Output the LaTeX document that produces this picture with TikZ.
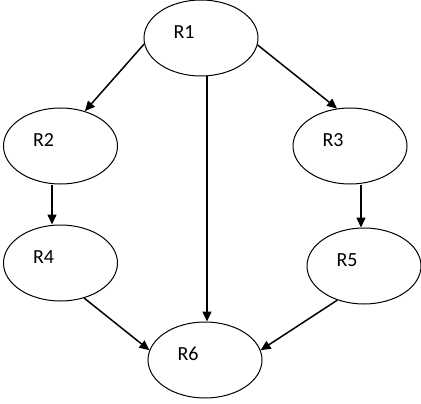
\documentclass[tikz,border=0pt]{standalone}
\usepackage{fontspec}
\setmainfont{Carlito}
\usetikzlibrary{shapes.geometric,arrows.meta}
\begin{document}
\begin{tikzpicture}[x=1pt,y=-1pt,
  rnode/.style={ellipse,draw,line width=1pt,minimum width=114pt,minimum height=76pt,inner sep=0pt,
    label={[font=\fontsize{20}{24}\selectfont,xshift=-17pt,yshift=6pt]center:#1}},
  conn/.style={line width=1.5pt,-{Triangle[length=10pt,width=9pt]},shorten >=0pt}]
\useasboundingbox (0,0) rectangle (421,404);
\node[rnode=R1] (R1) at (201,38) {};
\node[rnode=R2] (R2) at (60.5,146) {};
\node[rnode=R3] (R3) at (350,146) {};
\node[rnode=R4] (R4) at (60.5,263) {};
\node[rnode=R5] (R5) at (364,266) {};
\node[rnode=R6] (R6) at (205,360) {};
\coordinate (vmid) at (207,0);
\coordinate (vleft) at (52,0);
\coordinate (vright) at (361,0);
\draw[conn] (R1.186) -- (R2.55);
\draw[conn] (R1.353) -- (R3.109);
\draw[conn] (R1.south -| vmid) -- (R6.north -| vmid);
\draw[conn] (R2.south -| vleft) -- (R4.north -| vleft);
\draw[conn] (R3.south -| vright) -- (R5.north -| vright);
\draw[conn] (R4.304) -- (R6.170);
\draw[conn] (R5.232) -- (R6.10);
\end{tikzpicture}
\end{document}
